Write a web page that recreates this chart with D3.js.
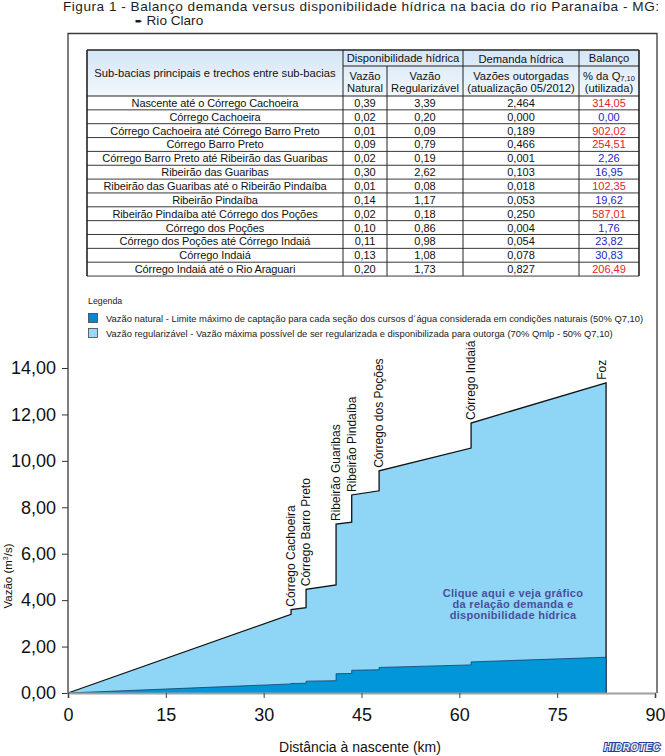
<!DOCTYPE html>
<html><head><meta charset="utf-8">
<script src="https://cdn.jsdelivr.net/npm/d3@7"></script>
<style>
body{margin:0;background:#fff;}
svg{display:block;font-family:"Liberation Sans",Arial,sans-serif;}
</style></head>
<body>
<svg id="chart" width="665" height="756"></svg>
<script>
// ---------- DATA ----------
const subBasins = [
  "Nascente até o Córrego Cachoeira",
  "Córrego Cachoeira",
  "Córrego Cachoeira até Córrego Barro Preto",
  "Córrego Barro Preto",
  "Córrego Barro Preto até Ribeirão das Guaribas",
  "Ribeirão das Guaribas",
  "Ribeirão das Guaribas até o Ribeirão Pindaíba",
  "Ribeirão Pindaíba",
  "Ribeirão Pindaíba até Córrego dos Poções",
  "Córrego dos Poções",
  "Córrego dos Poções até Córrego Indaiá",
  "Córrego Indaiá",
  "Córrego Indaiá até o Rio Araguari"
];
const vazaoNatural = [0.39,0.02,0.01,0.09,0.02,0.30,0.01,0.14,0.02,0.10,0.11,0.13,0.20];
const vazaoRegularizavel = [3.39,0.20,0.09,0.79,0.19,2.62,0.08,1.17,0.18,0.86,0.98,1.08,1.73];
const demandaOutorgada = [2.464,0.000,0.189,0.466,0.001,0.103,0.018,0.053,0.250,0.004,0.054,0.078,0.827];
const balancoPct = [314.05,0.00,902.02,254.51,2.26,16.95,102.35,19.62,587.01,1.76,23.82,30.83,206.49];

const confluenceNames = ["Córrego Cachoeira","Córrego Barro Preto","Ribeirão Guaribas","Ribeirão Pindaíba","Córrego dos Poções","Córrego Indaiá","Foz"];
const confluenceKm = [34.2,36.5,41.1,43.5,47.7,61.8,82.5];

const yTicks = [0,2,4,6,8,10,12,14];
const xTicks = [0,15,30,45,60,75,90];

// ---------- SETUP ----------
const svg = d3.select("#chart");
const loc = d3.formatLocale({decimal:",", thousands:".", grouping:[3], currency:["R$",""]});
const f2 = loc.format(".2f"), f3 = loc.format(".3f");

const x = d3.scaleLinear().domain([0,90]).range([68,655]);
const y = d3.scaleLinear().domain([0,14]).range([693,368]);

// cumulative profile: trecho = linear increase, tributary = step
function profile(vals){
  const pts=[[0,0]]; let cum=0;
  for(let k=0;k<confluenceKm.length;k++){
    cum += vals[2*k]; pts.push([confluenceKm[k],cum]);
    if(2*k+1 < vals.length){ cum += vals[2*k+1]; pts.push([confluenceKm[k],cum]); }
  }
  return pts;
}
const regPts = profile(vazaoRegularizavel);
const natPts = profile(vazaoNatural);

// ---------- TITLE ----------
svg.append("text").attr("x",63).attr("y",11).attr("font-size",13.6).attr("fill","#1e1e1e")
  .attr("textLength",596).attr("lengthAdjust","spacing")
  .text("Figura 1 - Balanço demanda versus disponibilidade hídrica na bacia do rio Paranaíba - MG:");
svg.append("text").attr("x",135).attr("y",25).attr("font-size",13.6).attr("fill","#1e1e1e")
  .html('<tspan font-family="DejaVu Sans" font-size="9" dy="-1">➨</tspan><tspan dx="4" dy="1">Rio Claro</tspan>');

// ---------- FRAME ----------
svg.append("path").attr("d","M68,693V33.5H657V693").attr("fill","none").attr("stroke","#3a3a3a").attr("stroke-width",1.3);

// ---------- AREAS ----------
const area = d3.area().x(d=>x(d[0])).y0(y(0)).y1(d=>y(d[1]));
const line = d3.line().x(d=>x(d[0])).y(d=>y(d[1]));
svg.append("path").datum(regPts).attr("d",area).attr("fill","#8fd5f5");
svg.append("path").datum(regPts.concat([[regPts[regPts.length-1][0],0]])).attr("d",line)
  .attr("fill","none").attr("stroke","#111").attr("stroke-width",1.3);
svg.append("path").datum(natPts).attr("d",area).attr("fill","#0096d8");
svg.append("path").datum(natPts.concat([[natPts[natPts.length-1][0],0]])).attr("d",line)
  .attr("fill","none").attr("stroke","#14406a").attr("stroke-width",0.8);

// ---------- AXES ----------
const yAxis = svg.append("g").attr("transform","translate(68,0)")
  .call(d3.axisLeft(y).tickValues(yTicks).tickSize(6).tickPadding(6).tickFormat(f2));
yAxis.select(".domain").remove();
yAxis.selectAll("text").attr("font-size",18).attr("font-family","Liberation Sans, Arial").attr("fill","#111");
yAxis.selectAll("line").attr("stroke","#333");

const xAxis = svg.append("g").attr("transform","translate(0,693)")
  .call(d3.axisBottom(x).tickValues(xTicks).tickSize(5).tickPadding(10).tickFormat(d3.format("d")));
xAxis.select(".domain").attr("stroke","#a0a0a0").attr("stroke-width",2.2);
xAxis.selectAll("text").attr("font-size",18).attr("font-family","Liberation Sans, Arial").attr("fill","#111");
xAxis.selectAll("line").attr("stroke","#444");

svg.append("text").attr("transform","translate(12,576) rotate(-90)").attr("text-anchor","middle")
  .attr("font-size",11.5).attr("fill","#111")
  .html('Vazão (m<tspan font-size="7" dy="-4">3</tspan><tspan dy="4">/s)</tspan>');
svg.append("text").attr("x",360).attr("y",752).attr("text-anchor","middle").attr("font-size",14).attr("fill","#111")
  .text("Distância à nascente (km)");

// ---------- CONFLUENCE LABELS ----------
const labelTops = confluenceKm.map((km,i)=>{
  const p = regPts.filter(d=>d[0]===km); return d3.max(p,d=>d[1]);
});
svg.append("g").selectAll("text").data(confluenceNames).join("text")
  .attr("transform",(d,i)=>`translate(${x(confluenceKm[i])},${y(labelTops[i])-3}) rotate(-90)`)
  .attr("dy",(d,i)=> i===confluenceNames.length-1 ? "0em" : "0.36em")
  .attr("font-size",12).attr("fill","#111").text(d=>d);

// ---------- LINK TEXT ----------
const link = svg.append("text").attr("text-anchor","middle").attr("font-size",11).attr("font-weight","bold")
  .attr("fill","#4a4f9e").attr("letter-spacing",0.3);
["Clique aqui e veja gráfico","da relação demanda e","disponibilidade hídrica"].forEach((t,i)=>{
  link.append("tspan").attr("x",513).attr("y",597+i*11).text(t);
});

// ---------- LOGO ----------
svg.append("text").attr("x",632).attr("y",751).attr("text-anchor","middle").attr("font-size",10.5)
  .attr("font-weight","bold").attr("font-style","italic").attr("fill","#e8ecf8").attr("stroke","#1f3d92")
  .attr("stroke-width",2).attr("paint-order","stroke").attr("letter-spacing",0.2).text("HIDROTEC");

// ---------- LEGEND ----------
svg.append("text").attr("x",88).attr("y",304).attr("font-size",8.8).attr("fill","#222").text("Legenda");
const legItems = [
  {c:"#0a86cc", t:"Vazão natural - Limite máximo de captação para cada seção dos cursos d´água considerada em condições naturais (50% Q7,10)"},
  {c:"#9ad8f5", t:"Vazão regularizável - Vazão máxima possível de ser regularizada e disponibilizada para outorga (70% Qmlp - 50% Q7,10)"}
];
legItems.forEach((it,i)=>{
  svg.append("rect").attr("x",88.5).attr("y",313.5+i*15).attr("width",9).attr("height",9)
    .attr("fill",it.c).attr("stroke","#444").attr("stroke-width",0.8);
  svg.append("text").attr("x",106).attr("y",321.5+i*15).attr("font-size",9.4).attr("fill","#222").text(it.t);
});

// ---------- TABLE ----------
const colX = [87,343,387,463,579,639];
const tTop = 50, rowA = 66, hBot = 96, rowH = 13.85;
const defs = svg.append("defs");
const grad = defs.append("linearGradient").attr("id","hdr").attr("x1",0).attr("y1",0).attr("x2",0).attr("y2",1);
grad.append("stop").attr("offset","0%").attr("stop-color","#d3e5f5");
grad.append("stop").attr("offset","100%").attr("stop-color","#f3f8fd");
const tb = svg.append("g");
tb.append("rect").attr("x",colX[0]).attr("y",tTop).attr("width",colX[5]-colX[0]).attr("height",hBot-tTop).attr("fill","url(#hdr)");
tb.append("rect").attr("x",colX[0]).attr("y",hBot).attr("width",colX[5]-colX[0]).attr("height",rowH*subBasins.length).attr("fill","#fff");

const tBot = hBot + rowH*subBasins.length;
tb.append("line").attr("x1",colX[1]).attr("x2",colX[5]).attr("y1",rowA).attr("y2",rowA).attr("stroke","#222");
d3.range(subBasins.length+1).forEach(i=>{
  tb.append("line").attr("x1",colX[0]).attr("x2",colX[5]).attr("y1",hBot+i*rowH).attr("y2",hBot+i*rowH)
    .attr("stroke","#222").attr("stroke-width",i===0?1.2:0.9);
});
colX.forEach((cx,i)=>{
  const y1 = (i===2) ? rowA : tTop;
  tb.append("line").attr("x1",cx).attr("x2",cx).attr("y1",y1).attr("y2",tBot)
    .attr("stroke","#222").attr("stroke-width",(i===0||i===5)?1.6:1);
});
tb.append("line").attr("x1",colX[0]).attr("x2",colX[5]).attr("y1",tTop).attr("y2",tTop).attr("stroke","#222").attr("stroke-width",1.6);

const fs = 11.2;
const hText = (tx,ty,t)=>tb.append("text").attr("x",tx).attr("y",ty).attr("text-anchor","middle").attr("font-size",fs).attr("fill","#111").html(t);
const cc = i=>(colX[i]+colX[i+1])/2;
hText(cc(0),77,"Sub-bacias principais e trechos entre sub-bacias");
hText((colX[1]+colX[3])/2,62,"Disponibilidade hídrica");
hText(cc(3),62.5,"Demanda hídrica");
hText(cc(4),62,"Balanço");
hText(cc(1),80,"Vazão"); hText(cc(1),92,"Natural");
hText(cc(2),80,"Vazão"); hText(cc(2),92,"Regularizável");
hText(cc(3),80,"Vazões outorgadas"); hText(cc(3),92,"(atualização 05/2012)");
hText(cc(4),80,'% da Q<tspan font-size="7.5" dy="1">7,10</tspan>'); hText(cc(4),92,"(utilizada)");

const rows = subBasins.map((n,i)=>[n,f2(vazaoNatural[i]),f2(vazaoRegularizavel[i]),f3(demandaOutorgada[i]),f2(balancoPct[i])]);
rows.forEach((r,i)=>{
  const by = hBot + i*rowH + rowH/2 + 4;
  r.forEach((v,j)=>{
    tb.append("text").attr("x",cc(j)).attr("y",by).attr("text-anchor","middle").attr("font-size",11)
      .attr("letter-spacing",j===0?-0.1:0)
      .attr("fill", j===4 ? (balancoPct[i]>100 ? "#e3242b" : "#2626c4") : "#111").text(v);
  });
});
</script>
</body></html>
